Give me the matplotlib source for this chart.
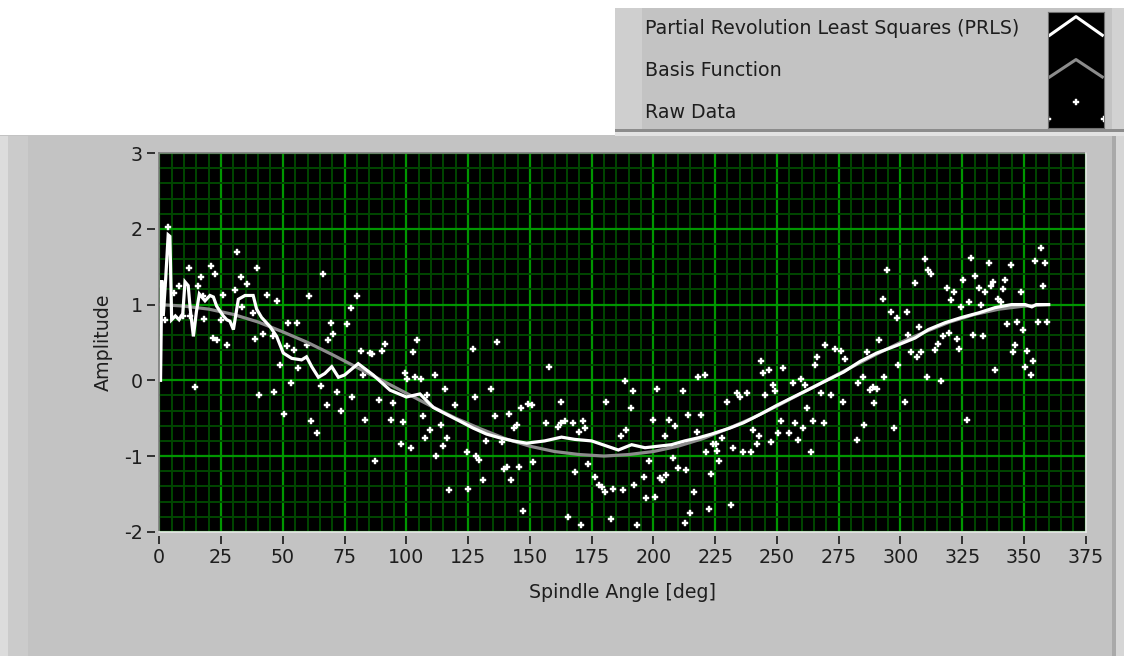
import matplotlib
matplotlib.use("Agg")
import matplotlib.pyplot as plt
from matplotlib.patches import Rectangle
from matplotlib.lines import Line2D
from matplotlib.ticker import MultipleLocator

# raw spindle measurements (angle in deg, amplitude)
raw_angle = [
    1.5, 2.5, 3.6, 6.0, 8.0, 9.5, 12.1, 12.4, 14.4, 15.8, 16.8, 17.8, 18.2, 20.8, 21.9,
    22.6, 23.2, 25.0, 25.8, 27.3, 30.6, 31.3, 33.1, 33.6, 35.4, 38.1, 38.7, 39.4, 40.3,
    42.1, 43.4, 46.1, 46.5, 47.5, 48.7, 50.6, 51.5, 52.2, 53.3, 54.6, 55.6, 56.3, 59.6,
    60.6, 61.3, 63.7, 65.3, 66.1, 67.7, 68.4, 69.4, 70.3, 72.1, 73.5, 75.8, 77.6, 78.1,
    79.9, 81.5, 82.6, 83.2, 85.3, 86.2, 87.3, 88.8, 90.3, 91.4, 93.8, 94.4, 97.7, 98.5,
    99.4, 100.2, 101.9, 102.5, 103.5, 104.2, 105.8, 106.6, 107.5, 108.5, 109.5, 111.6,
    112.2, 114.0, 114.7, 115.6, 116.3, 117.2, 119.7, 124.4, 125.1, 126.8, 127.6, 128.4,
    129.4, 131.1, 132.1, 134.1, 135.9, 136.5, 138.6, 139.6, 140.6, 141.5, 142.3, 143.7,
    144.6, 145.7, 146.4, 147.1, 149.3, 150.7, 151.3, 156.7, 157.7, 161.5, 162.5, 162.8,
    164.2, 165.5, 167.5, 168.2, 169.8, 170.6, 171.6, 172.3, 173.6, 176.3, 177.9, 179.3,
    180.4, 181.0, 182.8, 183.5, 186.8, 187.5, 188.5, 189.1, 190.9, 191.6, 192.2, 193.2,
    196.1, 197.2, 198.2, 199.7, 200.6, 201.3, 202.6, 203.6, 204.6, 205.3, 206.3, 207.8,
    208.7, 209.8, 211.8, 212.7, 213.4, 214.1, 215.0, 216.5, 217.5, 218.1, 219.2, 220.8,
    221.5, 222.5, 223.3, 224.2, 225.3, 225.9, 226.6, 227.7, 229.7, 231.3, 232.2, 233.8,
    235.1, 236.2, 237.8, 239.4, 240.2, 241.9, 242.8, 243.6, 244.2, 245.0, 246.9, 247.7,
    248.3, 249.3, 250.6, 251.6, 252.4, 255.0, 256.4, 257.4, 258.7, 259.7, 260.5, 261.4,
    262.1, 263.7, 264.5, 265.5, 266.2, 267.8, 268.9, 269.5, 271.8, 273.6, 276.0, 276.7,
    277.6, 282.3, 283.0, 284.8, 285.4, 286.4, 287.5, 289.1, 289.5, 290.4, 291.4, 292.9,
    293.5, 294.5, 296.2, 297.6, 298.5, 299.2, 301.9, 302.6, 303.2, 304.3, 305.9, 306.6,
    307.7, 308.4, 310.0, 310.7, 311.3, 312.3, 313.8, 315.4, 316.3, 317.4, 318.8, 319.7,
    320.4, 321.5, 322.8, 323.7, 324.4, 325.5, 326.9, 327.8, 328.6, 329.3, 330.2, 332.0,
    332.7, 333.3, 334.3, 335.9, 336.7, 337.4, 338.1, 339.7, 340.7, 341.4, 342.4, 343.0,
    344.7, 345.5, 346.4, 347.1, 348.7, 349.5, 350.5, 351.1, 352.8, 353.6, 354.5, 355.5,
    356.8, 357.6, 358.6, 359.5,
]
raw_amp = [
    1.25, 0.80, 2.03, 1.15, 1.24, 0.85, 1.48, 0.85, -0.09, 1.25, 1.37, 1.11, 0.81, 1.51, 0.56,
    1.40, 0.53, 0.80, 1.13, 0.47, 1.19, 1.70, 1.37, 0.97, 1.27, 0.89, 0.55, 1.48, -0.19,
    0.61, 1.13, 0.58, -0.15, 1.05, 0.20, -0.44, 0.45, 0.76, -0.04, 0.40, 0.76, 0.16, 0.47,
    1.11, -0.54, -0.70, -0.07, 1.40, -0.33, 0.53, 0.76, 0.61, -0.15, -0.41, 0.74, 0.95, -0.22,
    1.11, 0.39, 0.07, -0.52, 0.36, 0.35, -1.06, -0.26, 0.39, 0.48, -0.52, -0.30, -0.84, -0.55,
    0.10, 0.02, -0.89, 0.37, 0.04, 0.53, 0.02, -0.47, -0.76, -0.19, -0.66, 0.07,
    -1.00, -0.59, -0.87, -0.12, -0.76, -1.45, -0.33, -0.95, -1.43, 0.42, -0.22, -1.00,
    -1.05, -1.32, -0.80, -0.12, -0.47, 0.50, -0.81, -1.17, -1.14, -0.44, -1.32, -0.63,
    -0.59, -1.14, -0.36, -1.73, -0.31, -0.33, -1.08, -0.57, 0.18, -0.62, -0.28, -0.56,
    -0.54, -1.81, -0.57, -1.21, -0.68, -1.91, -0.54, -0.63, -1.11, -1.27, -1.38, -1.41,
    -1.48, -0.28, -1.83, -1.43, -0.74, -1.45, -0.01, -0.66, -0.36, -0.14, -1.38, -1.91,
    -1.27, -1.56, -1.06, -0.52, -1.54, -0.12, -1.29, -1.32, -0.74, -1.25, -0.52, -1.03,
    -0.60, -1.16, -0.14, -1.89, -1.19, -0.46, -1.75, -1.48, -0.68, 0.04, -0.46, 0.07,
    -0.95, -1.70, -1.24, -0.84, -0.84, -0.93, -1.06, -0.76, -0.28, -1.64, -0.89, -0.17,
    -0.22, -0.95, -0.17, -0.95, -0.66, -0.84, -0.74, 0.26, 0.10, -0.19, 0.13, -0.81,
    -0.06, -0.14, -0.70, -0.54, 0.16, -0.70, -0.04, -0.57, -0.79, 0.02, -0.63, -0.06,
    -0.36, -0.95, -0.54, 0.20, 0.31, -0.17, -0.57, 0.47, -0.19, 0.42, 0.39, -0.28,
    0.28, -0.79, -0.04, 0.04, -0.59, 0.37, -0.13, -0.09, -0.30, -0.12, 0.53, 1.08,
    0.04, 1.46, 0.90, -0.63, 0.82, 0.20, -0.28, 0.90, 0.60, 0.37, 1.28, 0.31,
    0.71, 0.37, 1.60, 0.04, 1.46, 1.41, 0.40, 0.48, -0.01, 0.58, 1.22, 0.63,
    1.06, 1.17, 0.55, 0.42, 0.97, 1.33, -0.52, 1.04, 1.62, 0.60, 1.38, 1.22,
    1.00, 0.58, 1.17, 1.55, 1.25, 1.30, 0.13, 1.08, 1.03, 1.20, 1.33, 0.74,
    1.52, 0.37, 0.47, 0.77, 1.17, 0.66, 0.18, 0.39, 0.07, 0.25, 1.57, 0.77,
    1.75, 1.25, 1.55, 0.77,
]

# partial revolution least squares fit
prls_angle = [
    0.5, 1.0, 1.6, 2.6, 3.6, 4.3, 5.0, 6.5, 8.0, 9.5, 10.4, 11.7, 12.5, 13.8, 15.0, 16.2,
    18.5, 20.5, 21.9, 23.2, 25.9, 27.3, 28.6, 30.0, 32.0, 34.7, 38.0, 39.4, 41.4, 44.8,
    47.5, 50.2, 53.6, 57.6, 59.6, 61.7, 64.4, 67.0, 69.8, 72.5, 75.0, 80.5, 86.6, 93.4,
    100.0, 105.5, 111.0, 116.3, 121.7, 127.0, 132.5, 137.9, 143.3, 148.7, 156.0, 162.8,
    168.2, 175.0, 180.4, 185.8, 191.2, 196.6, 202.0, 207.3, 212.7, 218.1, 223.5, 231.0,
    236.5, 243.2, 250.0, 256.7, 263.5, 270.2, 277.0, 283.7, 290.4, 298.5, 306.0, 311.3,
    318.0, 324.8, 331.6, 338.3, 345.0, 350.5, 353.2, 355.0, 360.0,
]
prls_amp = [
    0.00, 1.32, 0.85, 1.35, 1.92, 1.90, 0.80, 0.85, 0.80, 0.88, 1.30, 1.25, 0.95, 0.58, 0.90, 1.14,
    1.05, 1.12, 1.10, 0.98, 0.85, 0.80, 0.78, 0.67, 1.07, 1.12, 1.12, 0.94, 0.83, 0.71,
    0.58, 0.36, 0.29, 0.27, 0.31, 0.18, 0.04, 0.09, 0.18, 0.04, 0.07, 0.22, 0.07, -0.13,
    -0.22, -0.18, -0.36, -0.45, -0.54, -0.63, -0.71, -0.76, -0.80, -0.83, -0.80, -0.75,
    -0.78, -0.80, -0.86, -0.92, -0.85, -0.89, -0.87, -0.85, -0.80, -0.76, -0.71, -0.63,
    -0.56, -0.45, -0.33, -0.22, -0.11, 0.00, 0.11, 0.25, 0.36, 0.46, 0.56, 0.67,
    0.76, 0.83, 0.89, 0.96, 1.00, 1.00, 0.97, 1.00, 1.00,
]

# basis function samples
basis_angle = list(range(0, 361, 10))
basis_amp = [
    1.00, 0.98, 0.94, 0.87, 0.77, 0.64, 0.50, 0.34, 0.17, 0.00, -0.17, -0.34, -0.50,
    -0.64, -0.77, -0.87, -0.94, -0.98, -1.00, -0.98, -0.94, -0.87, -0.77, -0.64, -0.50,
    -0.34, -0.17, 0.00, 0.17, 0.34, 0.50, 0.64, 0.77, 0.87, 0.94, 0.98, 1.00,
]

legend_labels = ["Partial Revolution Least Squares (PRLS)", "Basis Function", "Raw Data"]
x_ticks = list(range(0, 376, 25))
y_ticks = [-2, -1, 0, 1, 2, 3]

W, H = 1124, 656
PANEL = "#c3c3c3"
TEXT = "#1e1e1e"
FONT = 13.7
plt.rcParams["font.family"] = ["DejaVu Sans"]
plt.rcParams["axes.unicode_minus"] = False


def box(x0, y0, x1, y1):
    """pixel box (top-left origin) -> figure fraction rect"""
    return [x0 / W, 1 - y1 / H, (x1 - x0) / W, (y1 - y0) / H]


def fill(x0, y0, x1, y1, color):
    l, b, w, h = box(x0, y0, x1, y1)
    fig.patches.append(Rectangle((l, b), w, h, transform=fig.transFigure,
                                 facecolor=color, edgecolor="none", zorder=0))


fig = plt.figure(figsize=(W / 100, H / 100), dpi=100, facecolor=PANEL)

# front panel background pieces
fill(0, 0, W, 8, "white")
fill(0, 0, 615, 135, "white")
fill(615, 8, 642, 131, "#cfcfcf")
fill(1112, 8, W, 131, "#d2d2d2")
fill(615, 129, W, 132, "#8c8c8c")
fill(615, 132, W, 136, "#e2e2e2")
fill(0, 136, 8, H, "#dcdcdc")
fill(8, 136, 28, H, "#cbcbcb")
fill(1112, 136, 1116, H, "#a9a9a9")
fill(1116, 136, W, H, "#d6d6d6")

# graph
ax = fig.add_axes(box(159.3, 153.1, 1085.7, 531.8))
ax.set_facecolor("black")
ax.set_xlim(0, 375)
ax.set_ylim(-2, 3)

ax.xaxis.set_minor_locator(MultipleLocator(5))
ax.yaxis.set_minor_locator(MultipleLocator(0.2))
ax.set_xticks(x_ticks)
ax.set_yticks(y_ticks)
ax.grid(which="minor", color="#004600", linewidth=1.4, zorder=0)
ax.grid(which="major", color="#009600", linewidth=1.6, zorder=0)
ax.set_axisbelow(True)

ax.plot(raw_angle, raw_amp, linestyle="none", marker="P", markersize=5.0,
        markerfacecolor="white", markeredgecolor="white", markeredgewidth=0.3, zorder=3)
ax.plot(basis_angle, basis_amp, color="#8c8c8c", linewidth=2.3, zorder=4,
        solid_joinstyle="round")
ax.plot(prls_angle, prls_amp, color="white", linewidth=2.3, zorder=5,
        solid_joinstyle="miter")

# scales sit a few pixels off the plot area
for side in ("top", "right", "left", "bottom"):
    ax.spines[side].set_visible(False)
ax.spines["bottom"].set_position(("outward", 3))
ax.spines["left"].set_position(("outward", 3))

ax.tick_params(which="major", direction="out", length=6, width=1.4, color="#303030",
               labelsize=FONT, labelcolor=TEXT, pad=3)
ax.tick_params(which="minor", length=0)

# sunken frame around the plot area
for (x0, x1), (y0, y1), c in [((0, 0), (0, 1), "#7c7c7c"), ((0, 1), (1, 1), "#7c7c7c"),
                              ((0, 1), (0, 0), "#e8e8e8"), ((1, 1), (1, 0), "#e8e8e8")]:
    ax.add_line(Line2D([x0, x1], [y0, y1], transform=ax.transAxes, color=c,
                       linewidth=1.2, clip_on=False, zorder=6))

ax.set_xlabel("Spindle Angle [deg]", fontsize=FONT, color=TEXT)
ax.set_ylabel("Amplitude", fontsize=FONT, color=TEXT)
ax.xaxis.set_label_coords(0.5, -0.135)
ax.yaxis.set_label_coords(-0.05, 0.5)

# plot legend
for label, y in zip(legend_labels, (28, 70, 112)):
    fig.text(645 / W, 1 - y / H, label, fontsize=FONT, color=TEXT, va="center", ha="left")

lg = fig.add_axes(box(1048, 12, 1104, 128))
lg.set_facecolor("black")
lg.set_xlim(0, 1)
lg.set_ylim(0, 1)
lg.set_xticks([])
lg.set_yticks([])
for s in lg.spines.values():
    s.set_edgecolor("#707070")
lg.plot([0.03, 0.5, 0.97], [0.80, 0.96, 0.80], color="white", linewidth=2.2)
lg.plot([0.03, 0.5, 0.97], [0.44, 0.59, 0.44], color="#8c8c8c", linewidth=2.2)
lg.plot([0.5, 0.0, 1.0], [0.22, 0.08, 0.08], linestyle="none", marker="P", markersize=5.0,
        markerfacecolor="white", markeredgecolor="white", markeredgewidth=0.3)

fig.savefig("out.png", dpi=100, facecolor=PANEL)
